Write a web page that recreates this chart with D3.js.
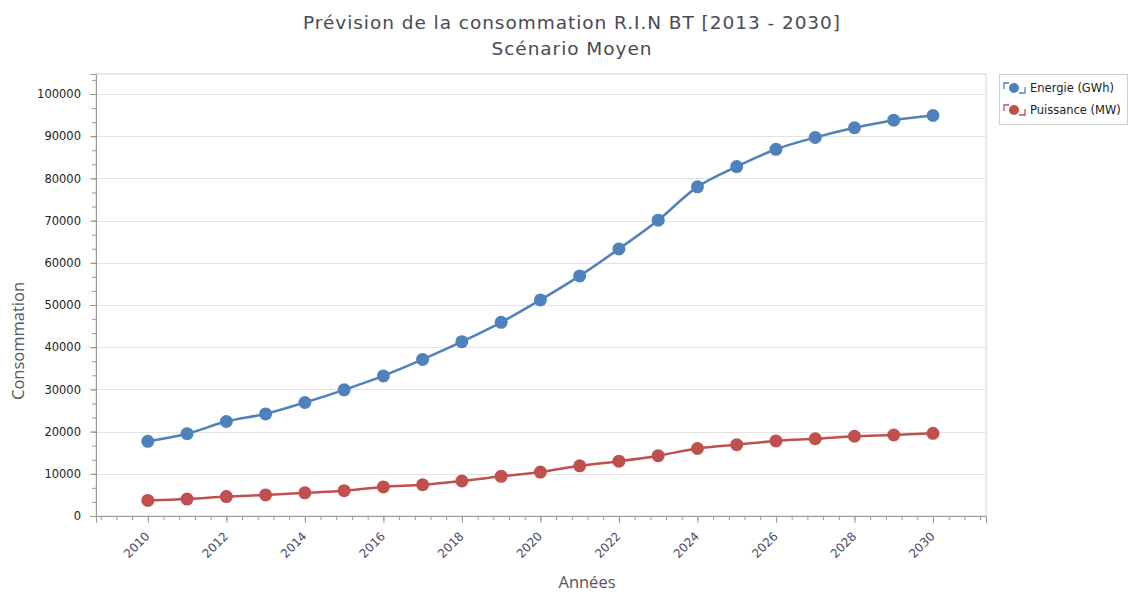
<!DOCTYPE html>
<html><head><meta charset="utf-8">
<script src="https://cdn.jsdelivr.net/npm/d3@7"></script>
<style>body{margin:0;background:#fff;} svg{display:block;}</style>
</head><body>
<svg id="c" width="1129" height="592"></svg>
<script>
const years = [2010,2011,2012,2013,2014,2015,2016,2017,2018,2019,2020,2021,2022,2023,2024,2025,2026,2027,2028,2029,2030];
const energie = [17700,19500,22400,24200,26900,29900,33200,37100,41300,45900,51200,56900,63300,70100,78000,82800,86900,89700,92000,93800,94900];
const puissance = [3700,4000,4600,5000,5500,6000,6900,7400,8300,9400,10400,11900,13000,14300,16000,16900,17800,18300,18900,19200,19600];
const seriesNames = ["Energie (GWh)", "Puissance (MW)"];
const seriesColors = ["#4F81BD", "#C0504D"];
const yTicks = [0,10000,20000,30000,40000,50000,60000,70000,80000,90000,100000];
const xTicks = [2010,2012,2014,2016,2018,2020,2022,2024,2026,2028,2030];
const title1 = "Prévision de la consommation R.I.N BT [2013 - 2030]";
const title2 = "Scénario Moyen";
const xTitle = "Années";
const yTitle = "Consommation";

const svg = d3.select("#c");
const L = 96, R = 986, T = 74, B = 516;
const x = d3.scaleLinear().domain([2008.68, 2031.35]).range([L, R]);
const y = d3.scaleLinear().domain([0, 104740]).range([B, T]);
const font = "DejaVu Sans, Verdana, sans-serif";
const tickFont = "Tahoma, DejaVu Sans, sans-serif";

// title
[title1, title2].forEach((t, i) => {
  svg.append("text").attr("x", 572).attr("y", 29 + i*26).attr("text-anchor","middle")
    .attr("font-family", font).attr("font-size", 18.5).attr("letter-spacing", 0.95)
    .attr("fill", "#4a4a55").text(t);
});

// plot border
svg.append("rect").attr("x", L).attr("y", T).attr("width", R-L).attr("height", B-T)
  .attr("fill","none").attr("stroke","#d4d4d4");

// gridlines
svg.append("g").selectAll("line").data(yTicks).join("line")
  .attr("x1", L).attr("x2", R).attr("y1", d=>Math.round(y(d))+0.5).attr("y2", d=>Math.round(y(d))+0.5)
  .attr("stroke", "#e2e2e2");

// y axis
const yMinor = d3.range(0, 104740, 10000/3);
const ya = svg.append("g").attr("transform", `translate(${L},0)`)
  .call(d3.axisLeft(y).tickValues(yMinor).tickSize(4).tickFormat(""));
ya.selectAll("line").attr("stroke","#999");
ya.select(".domain").remove();
const ya2 = svg.append("g").attr("transform", `translate(${L},0)`)
  .call(d3.axisLeft(y).tickValues(yTicks).tickSize(6).tickPadding(9).tickFormat(d3.format("d")));
ya2.select(".domain").attr("stroke","#999");
ya2.selectAll("line").attr("stroke","#999");
ya2.selectAll("text").attr("font-family", tickFont).attr("font-size", 11.5).attr("fill","#222");

// x axis
const xMinor = d3.range(2008.8, 2031.4, 0.4);
const xa = svg.append("g").attr("transform", `translate(0,${B})`)
  .call(d3.axisBottom(x).tickValues(xMinor).tickSize(4).tickFormat(""));
xa.selectAll("line").attr("stroke","#999");
xa.select(".domain").remove();
const xa2 = svg.append("g").attr("transform", `translate(0,${B})`)
  .call(d3.axisBottom(x).tickValues(xTicks).tickSize(7).tickFormat(d3.format("d")));
xa2.select(".domain").attr("stroke","#999");
xa2.selectAll("line").attr("stroke","#999");
xa2.selectAll("text").attr("font-family", font).attr("font-size", 12).attr("fill","#4a4a66")
  .attr("text-anchor","end").attr("dy", 0).attr("transform","translate(-5,14) rotate(-45)");

// axis titles
svg.append("text").attr("x", 587).attr("y", 588).attr("text-anchor","middle")
  .attr("font-family", "Open Sans, sans-serif").attr("font-size", 16.5).attr("fill","#555").text(xTitle);
svg.append("text").attr("transform","translate(24,341) rotate(-90)").attr("text-anchor","middle")
  .attr("font-family", "Open Sans, sans-serif").attr("font-size", 16.5).attr("fill","#555").text(yTitle);

// series
const seriesData = [energie, puissance];
seriesData.forEach((vals, i) => {
  const pts = years.map((yr, j) => [yr, vals[j]]);
  const line = d3.line().x(d=>x(d[0])).y(d=>y(d[1])).curve(d3.curveCatmullRom.alpha(0.5));
  svg.append("path").datum(pts).attr("d", line).attr("fill","none")
    .attr("stroke", seriesColors[i]).attr("stroke-width", 2.5);
  svg.append("g").selectAll("circle").data(pts).join("circle")
    .attr("cx", d=>x(d[0])).attr("cy", d=>y(d[1])).attr("r", 6.5).attr("fill", seriesColors[i]);
});

// legend
const lg = svg.append("g");
lg.append("rect").attr("x", 999.5).attr("y", 74.5).attr("width", 128).attr("height", 50)
  .attr("fill","#fff").attr("stroke","#cfcfcf");
seriesNames.forEach((n, i) => {
  const cy = 88 + i*22;
  const g = lg.append("g");
  g.append("path").attr("d", `M1004,${cy+1} V${cy-5} H1009`).attr("fill","none").attr("stroke", seriesColors[i]).attr("stroke-width",1.3);
  g.append("path").attr("d", `M1019,${cy+5} H1025 V${cy-1}`).attr("fill","none").attr("stroke", seriesColors[i]).attr("stroke-width",1.3);
  g.append("circle").attr("cx", 1014).attr("cy", cy).attr("r", 5).attr("fill", seriesColors[i]);
  g.append("text").attr("x", 1030).attr("y", cy+4).attr("font-family", tickFont)
    .attr("font-size", 11.5).attr("fill","#222").text(n);
});
</script>
</body></html>
